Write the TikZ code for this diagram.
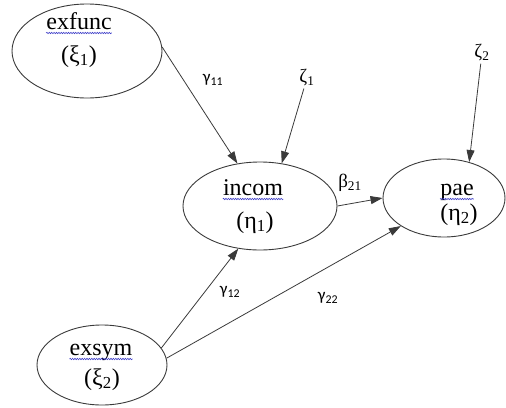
\documentclass[tikz,border=0pt]{standalone}
\usepackage{fontspec}
\setmainfont{Liberation Serif}
\newfontfamily\pathfont{Carlito}
\usetikzlibrary{arrows.meta,positioning,shapes.geometric,decorations.pathmorphing}
\definecolor{lineGray}{HTML}{3A3A3A}
\definecolor{spellBlue}{HTML}{4040C8}
\tikzset{
  latent/.style={draw=lineGray, ellipse, line width=0.9pt, inner sep=0pt},
  word/.style={font=\fontsize{24}{28}\selectfont, inner sep=0pt, anchor=base},
  coef/.style={font=\fontsize{19}{22}\selectfont, inner sep=2pt},
  gcoef/.style={coef, font=\fontsize{17}{20}\selectfont\pathfont},
  arr/.style={-{Triangle[length=12pt,width=8pt]}, line width=0.8pt, draw=lineGray},
  spell/.style={draw=spellBlue, line width=0.6pt, decorate,
    decoration={snake, amplitude=0.7pt, segment length=2.4pt}}
}
\begin{document}
\begin{tikzpicture}[x=1pt, y=-1pt]
    \useasboundingbox (0,0) rectangle (506,407);
    % latent variables
    \node[latent, minimum width=150pt, minimum height=94pt] (exfunc) at (87,51) {};
    \node[latent, minimum width=154pt, minimum height=88pt] (incom) at (260,206) {};
    \node[latent, minimum width=122pt, minimum height=78pt] (pae) at (444,198) {};
    \node[latent, minimum width=130pt, minimum height=80pt] (exsym) at (102,365) {};
    % names inside the ellipses
    \node[word] (exfuncW) at (79,29) {exfunc};
    \node[word] (exfuncS) at (79,62) {(ξ\textsubscript{1})};
    \node[word] (incomW) at (253,195) {incom};
    \node[word] (incomS) at (255,228) {(η\textsubscript{1})};
    \node[word] (paeW) at (457,195) {pae};
    \node[word] (paeS) at (459,220) {(η\textsubscript{2})};
    \node[word] (exsymW) at (101,355) {exsym};
    \node[word] (exsymS) at (102,385) {(ξ\textsubscript{2})};
    \foreach \w in {exfuncW,incomW,paeW,exsymW}
      \draw[spell] ([yshift=-4pt]\w.base west) -- ([yshift=-4pt]\w.base east);
    % disturbances and coefficients
    \node[coef] (z1) at (307,78) {ζ\textsubscript{1}};
    \node[coef] (z2) at (482,53) {ζ\textsubscript{2}};
    \node[gcoef] (g11) at (213,80) {γ\textsubscript{11}};
    \node[coef] (b21) at (350,183) {β\textsubscript{21}};
    \node[gcoef] (g12) at (230,292) {γ\textsubscript{12}};
    \node[gcoef] (g22) at (328,298) {γ\textsubscript{22}};
    % paths
    \draw[arr] (exfunc.3) -- (incom.118);
    \draw[arr] (z1) -- (incom.63);
    \draw[arr] (z2) -- (pae.55);
    \draw[arr] (incom.east) -- (pae.west);
    \draw[arr] (exsym.16) -- (incom.243);
    \draw[arr] (exsym.6) -- (pae.213);
  \end{tikzpicture}
\end{document}
